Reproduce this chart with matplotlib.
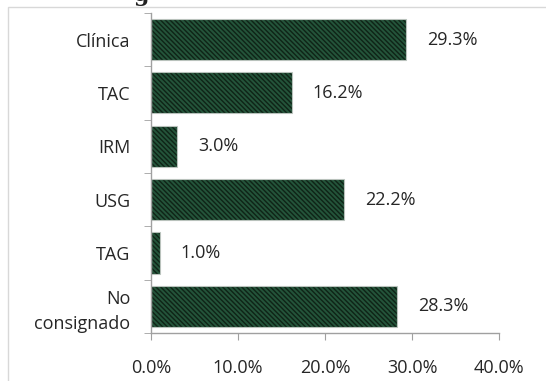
import matplotlib
matplotlib.use("Agg")
import matplotlib.pyplot as plt
from matplotlib.patches import Rectangle
from matplotlib.ticker import FuncFormatter, FixedLocator

categories = ["Clínica", "TAC", "IRM", "USG", "TAG", "No\nconsignado"]
percentages = [29.3, 16.2, 3.0, 22.2, 1.0, 28.3]
x_ticks = [0, 10, 20, 30, 40]

plt.rcParams["font.family"] = ["Open Sans", "DejaVu Sans"]
plt.rcParams["hatch.linewidth"] = 1.4

fig = plt.figure(figsize=(5.46, 3.81), dpi=100)
ax = fig.add_axes([0.2766, 0.126, 0.6374, 0.840])

# light frame of the chart area
fig.patches.append(Rectangle((8 / 546, -0.1), 1.2, 1 - 7 / 381 + 0.1,
                             transform=fig.transFigure, fill=False,
                             edgecolor="#d8d8d8", linewidth=1.0))
fig.text(0.243, 1.012, "g", fontsize=16, fontweight="bold",
         family="DejaVu Serif", color="#222222", va="center")

ypos = list(range(len(categories)))
# hatched fill (hatch takes the edge colour), then a thin pale outline on top
ax.barh(ypos, percentages, height=0.77, color="#0f2417",
        edgecolor="#24543a", linewidth=0, hatch="\\" * 7)
ax.barh(ypos, percentages, height=0.77, fill=False,
        edgecolor="#b9c2bc", linewidth=0.8)

for y, v in zip(ypos, percentages):
    ax.annotate(f"{v:.1f}%", (v, y), xytext=(15, 0), textcoords="offset points",
                ha="left", va="center", fontsize=13, color="#262626")

ax.set_ylim(len(categories) - 0.5, -0.5)
ax.set_xlim(0, 40)
ax.set_yticks(ypos)
ax.set_yticklabels(categories, fontsize=13, color="#262626", linespacing=1.45)
ax.yaxis.set_minor_locator(FixedLocator([i - 0.5 for i in range(len(categories) + 1)]))
ax.tick_params(axis="y", which="major", length=0, pad=15)
ax.tick_params(axis="y", which="minor", length=5, color="#a0a0a0")

ax.xaxis.set_major_locator(FixedLocator(x_ticks))
ax.xaxis.set_major_formatter(FuncFormatter(lambda v, _: f"{v:.1f}%"))
ax.tick_params(axis="x", length=5, color="#a0a0a0", labelsize=13,
               labelcolor="#262626", pad=14)

for side in ("top", "right"):
    ax.spines[side].set_visible(False)
for side in ("left", "bottom"):
    ax.spines[side].set_color("#a0a0a0")
    ax.spines[side].set_linewidth(1.0)

fig.savefig("out.png", dpi=100)
